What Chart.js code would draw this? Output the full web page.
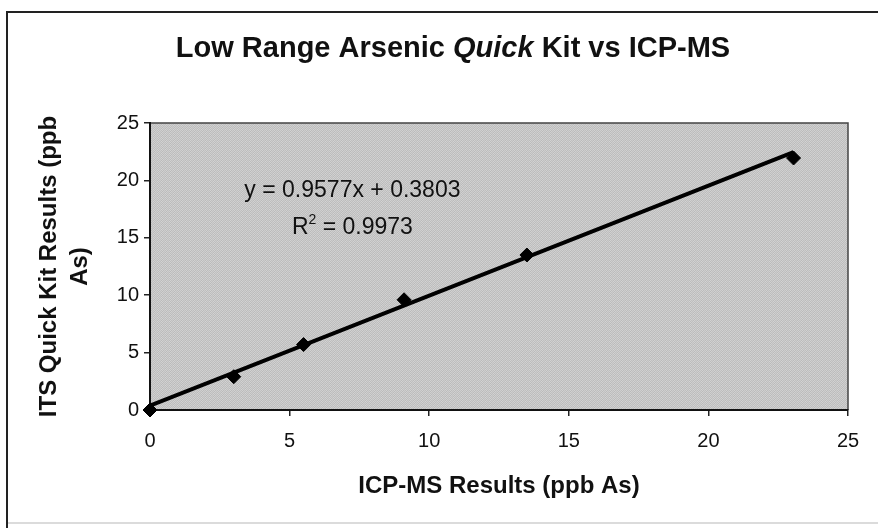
<!DOCTYPE html>
<html><head><meta charset="utf-8">
<script src="https://cdn.jsdelivr.net/npm/chart.js@4/dist/chart.umd.min.js"></script>
<style>html,body{margin:0;padding:0;background:#fff}#wrap{width:878px;height:528px;position:relative}</style>
</head><body><div id="wrap"><canvas id="c" width="878" height="528"></canvas></div>
<script>
// ---- data ----
const icpmsResults = [0, 3.0, 5.5, 9.1, 13.5, 23.05];
const quickKitResults = [0, 2.9, 5.7, 9.6, 13.5, 21.95];
const trendSlope = 0.9577;
const trendIntercept = 0.3803;
const trendXRange = [0, 23.05];
const xTickValues = [0, 5, 10, 15, 20, 25];
const yTickValues = [0, 5, 10, 15, 20, 25];
const chartTitleParts = [
  {text: 'Low Range Arsenic ', italic: false},
  {text: 'Quick', italic: true},
  {text: ' Kit vs ICP-MS', italic: false}
];
const xAxisTitle = 'ICP-MS Results (ppb As)';
const yAxisTitle = ['ITS Quick Kit Results (ppb', 'As)'];
const equationText = 'y = 0.9577x + 0.3803';
const r2Value = '0.9973';

const FONT = "'Liberation Sans', Arial, Helvetica, sans-serif";

// trendline points from the displayed regression equation
const trendPoints = trendXRange.map(x => ({x: x, y: trendSlope * x + trendIntercept}));
const scatterPoints = icpmsResults.map((x, i) => ({x: x, y: quickKitResults[i]}));

// halftone-like background pattern
function makePattern(ctx) {
  const p = document.createElement('canvas');
  p.width = 4; p.height = 4;
  const pc = p.getContext('2d');
  const shades = ['#cbcbcb','#bbbbbb','#d1d1d1','#c0c0c0',
                  '#bfbfbf','#d4d4d4','#bdbdbd','#cecece',
                  '#cdcdcd','#bebebe','#d2d2d2','#bcbcbc',
                  '#c1c1c1','#cfcfcf','#bababa','#d0d0d0'];
  for (let i = 0; i < 16; i++) { pc.fillStyle = shades[i]; pc.fillRect(i % 4, Math.floor(i / 4), 1, 1); }
  return ctx.createPattern(p, 'repeat');
}

const decorPlugin = {
  id: 'decor',
  beforeDraw(chart) {
    const {ctx, chartArea: a} = chart;
    ctx.save();
    ctx.fillStyle = '#fff';
    ctx.fillRect(0, 0, chart.width, chart.height);
    // page frame
    ctx.strokeStyle = '#222'; ctx.lineWidth = 2;
    ctx.beginPath(); ctx.moveTo(7, 528); ctx.lineTo(7, 12); ctx.lineTo(878, 12); ctx.stroke();
    ctx.strokeStyle = '#cfcfcf'; ctx.lineWidth = 1.5;
    ctx.beginPath(); ctx.moveTo(8, 523); ctx.lineTo(878, 523); ctx.stroke();
    // plot area
    ctx.fillStyle = makePattern(ctx);
    ctx.fillRect(a.left, a.top, a.right - a.left, a.bottom - a.top);
    ctx.strokeStyle = '#444'; ctx.lineWidth = 1.5;
    ctx.beginPath(); ctx.moveTo(a.left, a.top); ctx.lineTo(a.right, a.top); ctx.lineTo(a.right, a.bottom); ctx.stroke();
    ctx.restore();
  },
  afterDraw(chart) {
    const {ctx, scales} = chart;
    ctx.save();
    ctx.fillStyle = '#111';
    ctx.textBaseline = 'alphabetic';
    // title with italic "Quick"
    const fonts = chartTitleParts.map(p => (p.italic ? 'italic ' : '') + 'bold 29px ' + FONT);
    let total = 0;
    const widths = chartTitleParts.map((p, i) => { ctx.font = fonts[i]; const w = ctx.measureText(p.text).width; total += w; return w; });
    let x = 453 - total / 2;
    chartTitleParts.forEach((p, i) => { ctx.font = fonts[i]; ctx.textAlign = 'left'; ctx.fillText(p.text, x, 57); x += widths[i]; });
    // regression equation
    const cx = scales.x.getPixelForValue(7.25);
    const y1 = scales.y.getPixelForValue(18.55);
    const y2 = scales.y.getPixelForValue(15.3);
    ctx.font = '23px ' + FONT;
    ctx.textAlign = 'center';
    ctx.fillText(equationText, cx, y1);
    const rest = ' = ' + r2Value;
    ctx.font = '23px ' + FONT; const wR = ctx.measureText('R').width; const wRest = ctx.measureText(rest).width;
    ctx.font = '14px ' + FONT; const w2 = ctx.measureText('2').width;
    let sx = cx - (wR + w2 + wRest) / 2;
    ctx.textAlign = 'left';
    ctx.font = '23px ' + FONT; ctx.fillText('R', sx, y2); sx += wR;
    ctx.font = '14px ' + FONT; ctx.fillText('2', sx, y2 - 10); sx += w2;
    ctx.font = '23px ' + FONT; ctx.fillText(rest, sx, y2);
    ctx.restore();
  }
};

new Chart(document.getElementById('c'), {
  type: 'scatter',
  data: {
    datasets: [
      {
        label: 'Trend', data: trendPoints, type: 'line', showLine: true,
        borderColor: '#000', borderWidth: 4, pointRadius: 0, fill: false, order: 2
      },
      {
        label: 'Quick Kit', data: scatterPoints, pointStyle: 'rectRot', pointRadius: 7,
        backgroundColor: '#000', borderColor: '#000', borderWidth: 1, order: 1, clip: false
      }
    ]
  },
  options: {
    responsive: false, animation: false, devicePixelRatio: 1,
    layout: {padding: {top: 123, right: 30, bottom: 0, left: 0}},
    plugins: {legend: {display: false}, tooltip: {enabled: false}, title: {display: false}},
    scales: {
      x: {
        type: 'linear', min: 0, max: 25,
        afterBuildTicks: s => { s.ticks = xTickValues.map(v => ({value: v})); },
        afterFit: s => { s.height = 118; },
        ticks: {color: '#111', font: {size: 20, family: FONT}, padding: 13},
        grid: {drawOnChartArea: false, drawTicks: true, tickLength: 6, color: '#222', lineWidth: 1.5},
        border: {display: true, color: '#111', width: 2},
        title: {display: true, text: xAxisTitle, color: '#111', font: {size: 24, weight: 'bold', family: FONT}, padding: {top: 0, bottom: 27}}
      },
      y: {
        type: 'linear', min: 0, max: 25,
        afterBuildTicks: s => { s.ticks = yTickValues.map(v => ({value: v})); },
        afterFit: s => { s.width = 150; },
        ticks: {color: '#111', font: {size: 20, family: FONT}, padding: 5},
        grid: {drawOnChartArea: false, drawTicks: true, tickLength: 6, color: '#222', lineWidth: 1.5},
        border: {display: true, color: '#111', width: 2},
        title: {display: true, text: yAxisTitle, color: '#111', font: {size: 24, weight: 'bold', family: FONT, lineHeight: 1.3}, padding: {top: 34, bottom: 0}}
      }
    }
  },
  plugins: [decorPlugin]
});
</script>
</body></html>
